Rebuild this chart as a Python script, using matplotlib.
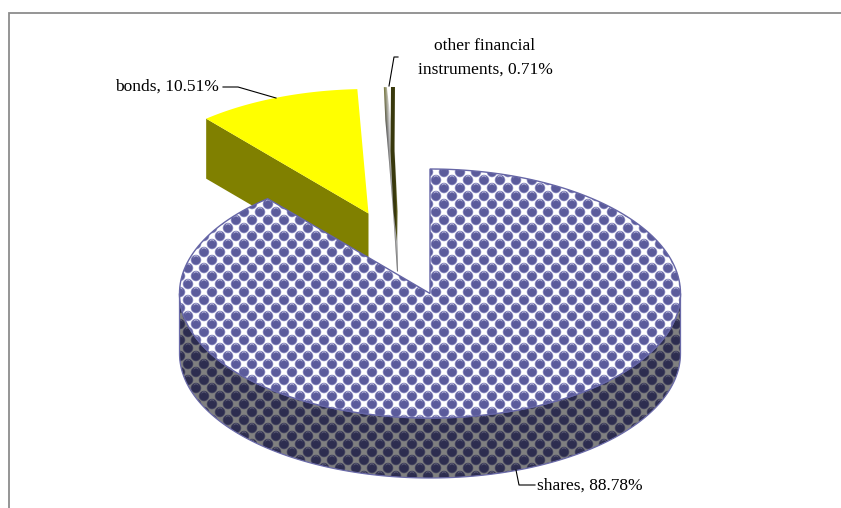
import numpy as np
import matplotlib
matplotlib.use("Agg")
import matplotlib.pyplot as plt
from matplotlib.patches import Polygon
from matplotlib.path import Path
from matplotlib.patches import PathPatch

categories = ["shares", "bonds", "other financial\ninstruments"]
values = [88.78, 10.51, 0.71]
labels = ["shares, 88.78%", "bonds, 10.51%", "other financial\ninstruments, 0.71%"]

W, H = 841, 508
CX, CY = 430, 293.5
A, B = 250.5, 124.5
DEPTH = 60
OFFSETS = [(0, 0), (-61.5, -80), (-35, -82)]

plt.rcParams['font.family'] = ['Liberation Serif', 'DejaVu Serif']
fig = plt.figure(figsize=(W / 100, H / 100), dpi=100, facecolor='white')
ax = fig.add_axes([0, 0, 1, 1])
ax.set_xlim(0, W)
ax.set_ylim(H, 0)
ax.axis('off')


def rim(deg, off):
    t = np.radians(deg)
    return CX + off[0] + A * np.sin(t), CY + off[1] - B * np.cos(t)


def wedge(a0, a1, off):
    t = np.linspace(a0, a1, 200)
    x, y = rim(t, off)
    return np.vstack([[CX + off[0], CY + off[1]], np.column_stack([x, y])])


def make_pattern(sphere, ring, light, hi):
    P, S = 16, 4
    n = P * S
    yy, xx = (np.mgrid[0:n, 0:n] + 0.5) / S
    tile = np.empty((n, n, 3))
    tile[:] = light
    centres = [(4, 4), (12, 12), (20, -4), (-4, 20), (4, 20), (20, 4), (-4, 4), (12, -4), (-4, 12), (20, 12)]
    for (cx, cy) in centres:
        tile[np.hypot(xx - cx, yy - cy) < 5.3] = ring
    for (cx, cy) in centres:
        d = np.hypot(xx - cx, yy - cy)
        tile[d < 4.5] = sphere
        hl = (np.hypot(xx - cx, yy - cy + 1.3) > 2.4) & (np.hypot(xx - cx, yy - cy + 2.0) < 2.4)
        tile[hl] = hi
    small = tile.reshape(P, S, P, S, 3).mean(axis=(1, 3))
    return np.tile(small, (H // P + 1, W // P + 1, 1))[:H, :W]


def fill_image(img, verts):
    im = ax.imshow(img, extent=(0, W, H, 0), interpolation='nearest', aspect='auto', zorder=ax_z[0])
    p = PathPatch(Path(verts), transform=ax.transData, facecolor='none', edgecolor='none')
    ax.add_patch(p)
    im.set_clip_path(p)
    ax_z[0] += 1
    return im


ax_z = [1]
shares_a = values[0] / sum(values) * 360
bonds_a = shares_a + values[1] / sum(values) * 360

top_pattern = make_pattern(np.array([92, 92, 156]) / 255, np.array([150, 150, 200]) / 255,
                           np.array([1.0, 1.0, 1.0]), np.array([215, 215, 240]) / 255)
side_pattern = make_pattern(np.array([46, 46, 80]) / 255, np.array([75, 75, 100]) / 255,
                            np.array([128, 128, 128]) / 255, np.array([108, 108, 130]) / 255)

# frame
ax.plot([9, 9, W], [H, 12.5, 12.5], color='#8c8c8c', lw=1.3, zorder=0, solid_joinstyle='miter')

# bonds
off = OFFSETS[1]
lx, ly = rim(shares_a, off)
ox, oy = CX + off[0], CY + off[1]
ax.add_patch(Polygon([(lx, ly), (ox, oy), (ox, oy + DEPTH), (lx, ly + DEPTH)],
                     facecolor='#808000', edgecolor='none', zorder=1))
ax.add_patch(Polygon(wedge(shares_a, bonds_a, off), facecolor='#ffff00', edgecolor='none', zorder=1.5))

# other financial instruments
off = OFFSETS[2]
tipx, tipy = CX + off[0], CY + off[1]
lx, ly = rim(bonds_a, off)
rx, ry = rim(360, off)
ax_z[0] = 2
yy, xx = np.mgrid[0:H, 0:W]
frac = np.clip((yy - ry) / (tipy + DEPTH - ry), 0, 1)
mid = lx + 2 + (tipx + 2.5 - lx - 2) * frac ** 1.4
across = np.clip((xx - mid + 2.5) / 5, 0, 1)[..., None]
fade = np.clip((yy - ry) / 45, 0, 1)[..., None]
left_col = (1 - fade) * np.array([0.45, 0.45, 0.2]) + fade * np.array([0.2, 0.2, 0.2])
grad = left_col * (1 - across) + np.array([0.88, 0.88, 0.88]) * across
fill_image(grad, np.array([(lx, ly), (lx + 3, ly), (lx + 7, ly + 33), (lx + 11, ly + 63), (tipx + 3, tipy),
                           (tipx + 3, tipy + DEPTH), (tipx + 2, tipy + DEPTH), (tipx - 2, tipy),
                           (lx + 5, ly + 73), (lx + 1.5, ly + 33), (lx, ly)]))
dark = np.ones((H, W, 3))
dark[:] = np.array([0.22, 0.22, 0.05])
dark[:, :] = dark + np.clip((xx - (rx - 1.3 + 2 * frac)) / 2, 0, 1)[..., None] * np.array([0.25, 0.25, 0.12])
fill_image(dark, np.array([(rx - 4, ry), (rx, ry), (rx - 0.5, ry + 64), (tipx + 2.5, tipy), (tipx + 2, tipy + 30),
                           (tipx - 1.5, tipy), (rx - 4.5, ry + 64), (rx - 4, ry)]))

# shares
ax_z[0] = 3
off = OFFSETS[0]
t = np.linspace(90, 270, 300)
x, y = rim(t, off)
side = np.vstack([np.column_stack([x, y]), np.column_stack([x[::-1], y[::-1] + DEPTH])])
fill_image(side_pattern, side)
ax.add_patch(Polygon(side, facecolor='none', edgecolor='#6a6aa8', lw=0.9, zorder=4))
top = wedge(0, shares_a, off)
ax_z[0] = 5
fill_image(top_pattern, top)
ax.add_patch(Polygon(top, facecolor='none', edgecolor='#6666a6', lw=1.0, zorder=6))

# leaders and labels
ax.plot([223, 238, 276], [87, 87, 98], color='black', lw=0.8, zorder=7)
ax.plot([398, 394, 389], [57, 57, 86], color='black', lw=0.8, zorder=7)
ax.plot([516, 519, 535], [470, 485, 485], color='black', lw=0.8, zorder=7)
fs = 12.5
ax.text(219, 87, labels[1], ha='right', va='center', fontsize=fs, color='black', zorder=8)
ax.text(537, 486, labels[0], ha='left', va='center', fontsize=fs, color='black', zorder=8)
ax.text(485, 57.5, labels[2], ha='center', va='center', fontsize=fs, color='black', zorder=8, linespacing=1.65)

fig.savefig('out.png', dpi=100, facecolor='white')
